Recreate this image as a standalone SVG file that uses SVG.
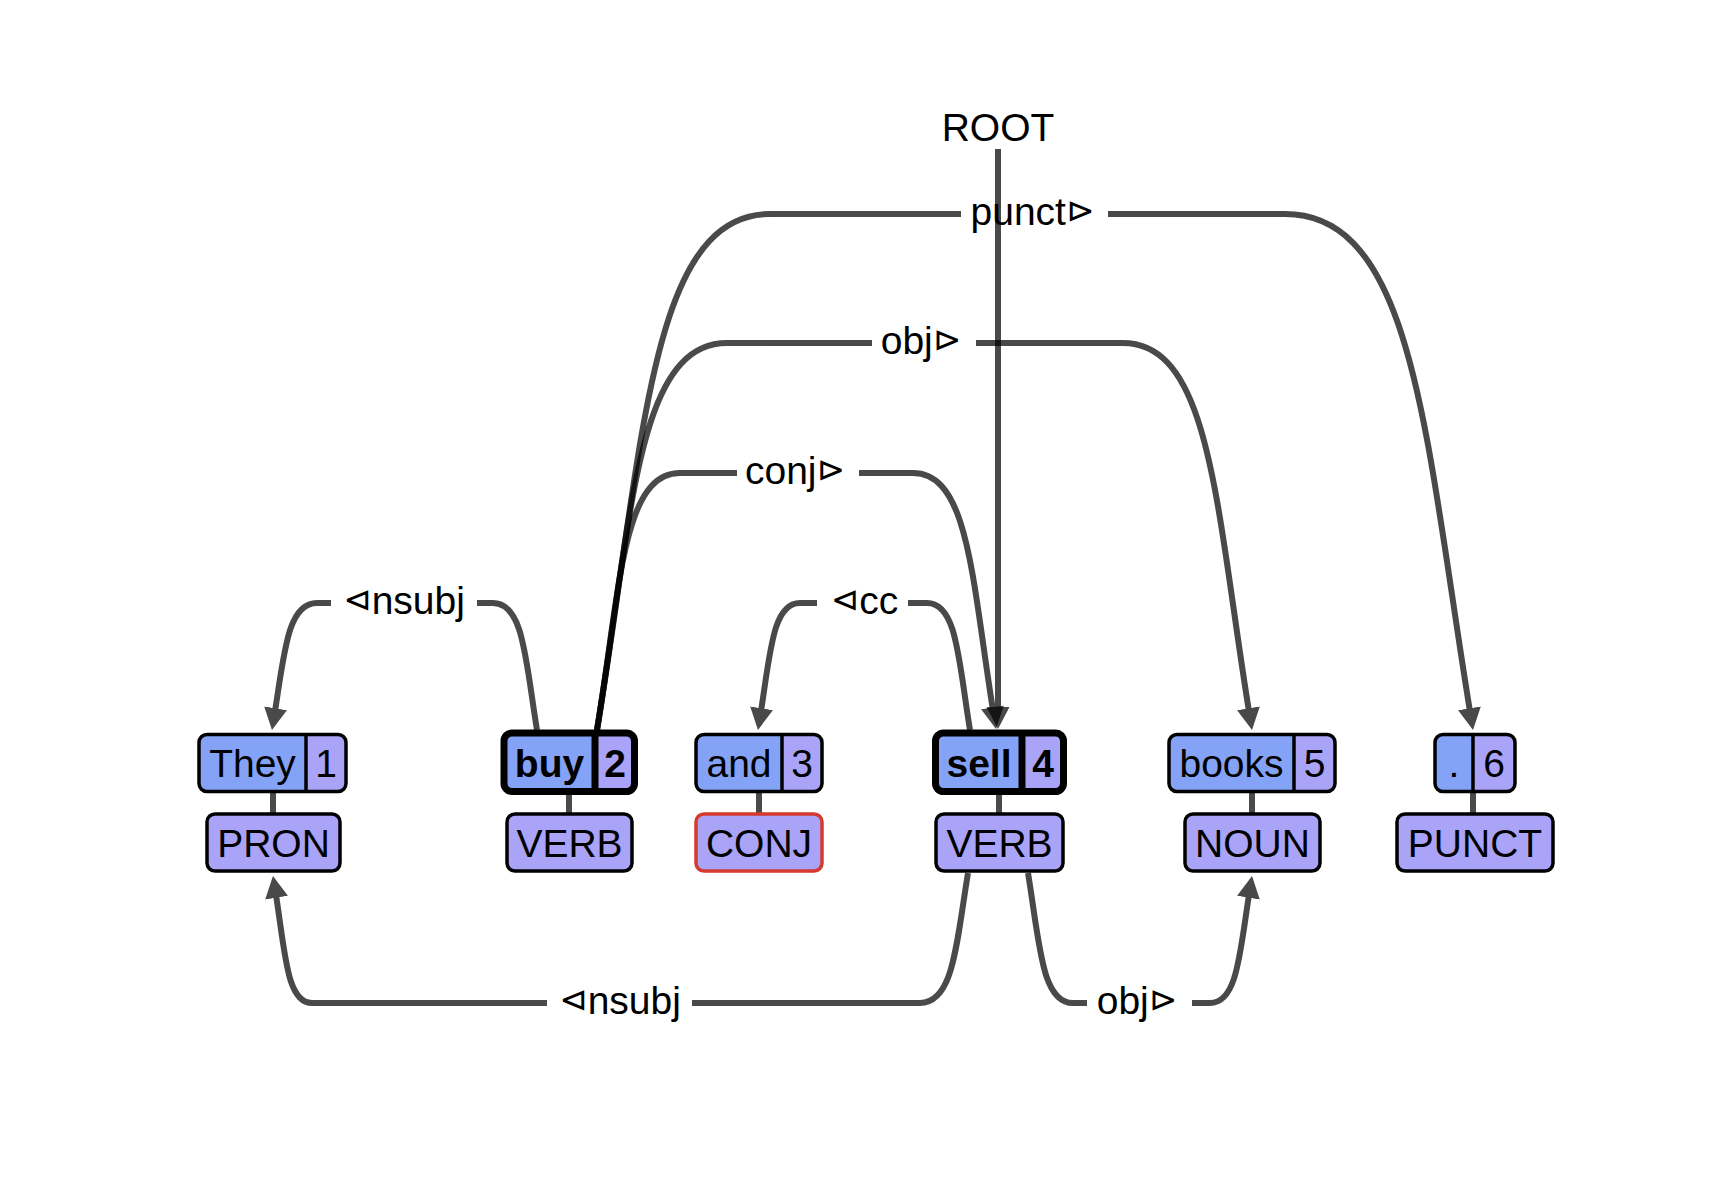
<svg xmlns="http://www.w3.org/2000/svg" width="1726" height="1184" viewBox="0 0 1726 1184">
<style>
text{font-family:"Liberation Sans",Arial,sans-serif;font-size:39px;fill:#000}
.c{text-anchor:middle}
.b{font-weight:bold}
.tri{font-family:"DejaVu Sans",sans-serif;font-size:34px}
.wd{fill:#85a3f6}
.nm{fill:#aaa4f8}
.pos{fill:#aaa4f8;stroke:#000;stroke-width:3.5}
.fr{fill:none;stroke:#000;stroke-width:3.5}
.frb{fill:none;stroke:#000;stroke-width:7}
.stub{stroke:#4a4a4a;stroke-width:6}
.arc{opacity:.71}
.arc path{fill:none;stroke:#000;stroke-width:6}
</style>
<defs>
<marker id="ah" markerUnits="userSpaceOnUse" markerWidth="22" markerHeight="23" viewBox="0 0 22 23" refX="12" refY="11.5" orient="auto"><path d="M0,0 L22,11.5 L0,23 Z" fill="#000"/></marker>
</defs>
<rect width="1726" height="1184" fill="#fff"/>
<g id="stubs">
<line class="stub" x1="273" y1="790" x2="273" y2="815"/>
<line class="stub" x1="569" y1="790" x2="569" y2="815"/>
<line class="stub" x1="759" y1="790" x2="759" y2="815"/>
<line class="stub" x1="999" y1="790" x2="999" y2="815"/>
<line class="stub" x1="1252" y1="790" x2="1252" y2="815"/>
<line class="stub" x1="1473" y1="790" x2="1473" y2="815"/>
</g>
<g id="connectors">
<g class="arc" id="arc-nsubj-top">
<path d="M477,603 H493 C523.8,603 525.5,660.2 537,730"/>
<path d="M331,603 H317 C286.6,603 284.2,655.7 273.6,720.1" marker-end="url(#ah)"/>
</g>
<g class="arc" id="arc-cc">
<path d="M908,603 H927 C957.1,603 958.5,660.2 970,730"/>
<path d="M817,603 H800 C771.7,603 770.2,655.7 759.6,720.1" marker-end="url(#ah)"/>
</g>
<g class="arc" id="arc-conj">
<path d="M597,730 C620.3,588.7 621.9,473 680,473 H737"/>
<path d="M859,473 H913 C970,473 972.1,583.7 994.4,719.1" marker-end="url(#ah)"/>
</g>
<g class="arc" id="arc-obj-top">
<path d="M597,730 C632.1,517.2 636,343 727,343 H872"/>
<path d="M976,343 H1123 C1212.2,343 1216.2,512.7 1250.4,720.1" marker-end="url(#ah)"/>
</g>
<g class="arc" id="arc-punct">
<path d="M597,730 C643.8,446.2 648.9,214 770,214 H961"/>
<path d="M1108,214 H1285 C1415.5,214 1425.5,441.7 1471.4,720.1" marker-end="url(#ah)"/>
</g>
<g class="arc" id="arc-nsubj-bottom">
<path d="M692,1003 H920 C953.6,1003 956.2,944.5 968,873"/>
<path d="M547,1003 H312 C285.8,1003 285.2,950.3 274.6,885.9" marker-end="url(#ah)"/>
</g>
<g class="arc" id="arc-obj-bottom">
<path d="M1087,1003 H1073 C1041.5,1003 1039.8,944.5 1028,873"/>
<path d="M1192,1003 H1210 C1238.3,1003 1239.8,950.3 1250.4,885.9" marker-end="url(#ah)"/>
</g>
<g class="arc" id="arc-root">
<path d="M998,149 V719" marker-end="url(#ah)"/>
</g>
<g id="arc-labels">
<text class="c" x="404" y="614"><tspan class="tri" dy="-3">⊲</tspan><tspan dy="3">nsubj</tspan></text>
<text class="c" x="864.5" y="614"><tspan class="tri" dy="-3">⊲</tspan><tspan dy="3">cc</tspan></text>
<text class="c" x="795" y="484">conj<tspan class="tri" dy="-3">⊳</tspan></text>
<text class="c" x="921" y="354">obj<tspan class="tri" dy="-3">⊳</tspan></text>
<text class="c" x="1032.5" y="225">punct<tspan class="tri" dy="-3">⊳</tspan></text>
<text class="c" x="620" y="1014"><tspan class="tri" dy="-3">⊲</tspan><tspan dy="3">nsubj</tspan></text>
<text class="c" x="1137" y="1014">obj<tspan class="tri" dy="-3">⊳</tspan></text>
</g>
</g>
<g id="root"><text class="c" x="998" y="141">ROOT</text></g>
<g id="w1">
<rect class="nm" x="199" y="734.5" width="147" height="57" rx="8"/>
<path class="wd" d="M306,734.5 H207 A8,8 0 0 0 199,742.5 V783.5 A8,8 0 0 0 207,791.5 H306 Z"/>
<rect class="fr" x="199" y="734.5" width="147" height="57" rx="8"/>
<line class="fr" x1="306" y1="734.5" x2="306" y2="791.5"/>
<text class="c" x="252.5" y="777">They</text>
<text class="c" x="326" y="777">1</text>
</g>
<g id="p1"><rect class="pos" x="207" y="814" width="133" height="57" rx="8"/><text class="c" x="273.5" y="857">PRON</text></g>
<g id="w2">
<rect class="nm" x="504" y="733" width="130.5" height="58.5" rx="8"/>
<path class="wd" d="M595,733 H512 A8,8 0 0 0 504,741 V783.5 A8,8 0 0 0 512,791.5 H595 Z"/>
<rect class="frb" x="504" y="733" width="130.5" height="58.5" rx="8"/>
<line class="frb" x1="595" y1="733" x2="595" y2="791.5"/>
<text class="c b" x="549.5" y="777">buy</text>
<text class="c b" x="615" y="777">2</text>
</g>
<g id="p2"><rect class="pos" x="507" y="814" width="125" height="57" rx="8"/><text class="c" x="569.5" y="857">VERB</text></g>
<g id="w3">
<rect class="nm" x="696" y="734.5" width="126" height="57" rx="8"/>
<path class="wd" d="M782,734.5 H704 A8,8 0 0 0 696,742.5 V783.5 A8,8 0 0 0 704,791.5 H782 Z"/>
<rect class="fr" x="696" y="734.5" width="126" height="57" rx="8"/>
<line class="fr" x1="782" y1="734.5" x2="782" y2="791.5"/>
<text class="c" x="739" y="777">and</text>
<text class="c" x="802" y="777">3</text>
</g>
<g id="p3"><rect class="pos" x="696" y="814" width="126" height="57" rx="8" style="stroke:#d43a2f"/><text class="c" x="759" y="857">CONJ</text></g>
<g id="w4">
<rect class="nm" x="935.5" y="733" width="128" height="58.5" rx="8"/>
<path class="wd" d="M1022,733 H943.5 A8,8 0 0 0 935.5,741 V783.5 A8,8 0 0 0 943.5,791.5 H1022 Z"/>
<rect class="frb" x="935.5" y="733" width="128" height="58.5" rx="8"/>
<line class="frb" x1="1022" y1="733" x2="1022" y2="791.5"/>
<text class="c b" x="979" y="777">sell</text>
<text class="c b" x="1043" y="777">4</text>
</g>
<g id="p4"><rect class="pos" x="936" y="814" width="127" height="57" rx="8"/><text class="c" x="999.5" y="857">VERB</text></g>
<g id="w5">
<rect class="nm" x="1169" y="734.5" width="166" height="57" rx="8"/>
<path class="wd" d="M1294,734.5 H1177 A8,8 0 0 0 1169,742.5 V783.5 A8,8 0 0 0 1177,791.5 H1294 Z"/>
<rect class="fr" x="1169" y="734.5" width="166" height="57" rx="8"/>
<line class="fr" x1="1294" y1="734.5" x2="1294" y2="791.5"/>
<text class="c" x="1231.5" y="777">books</text>
<text class="c" x="1314.5" y="777">5</text>
</g>
<g id="p5"><rect class="pos" x="1185" y="814" width="135" height="57" rx="8"/><text class="c" x="1252.5" y="857">NOUN</text></g>
<g id="w6">
<rect class="nm" x="1435" y="734.5" width="80" height="57" rx="8"/>
<path class="wd" d="M1473,734.5 H1443 A8,8 0 0 0 1435,742.5 V783.5 A8,8 0 0 0 1443,791.5 H1473 Z"/>
<rect class="fr" x="1435" y="734.5" width="80" height="57" rx="8"/>
<line class="fr" x1="1473" y1="734.5" x2="1473" y2="791.5"/>
<text class="c" x="1454" y="777">.</text>
<text class="c" x="1494" y="777">6</text>
</g>
<g id="p6"><rect class="pos" x="1397" y="814" width="156" height="57" rx="8"/><text class="c" x="1475" y="857">PUNCT</text></g>
</svg>
